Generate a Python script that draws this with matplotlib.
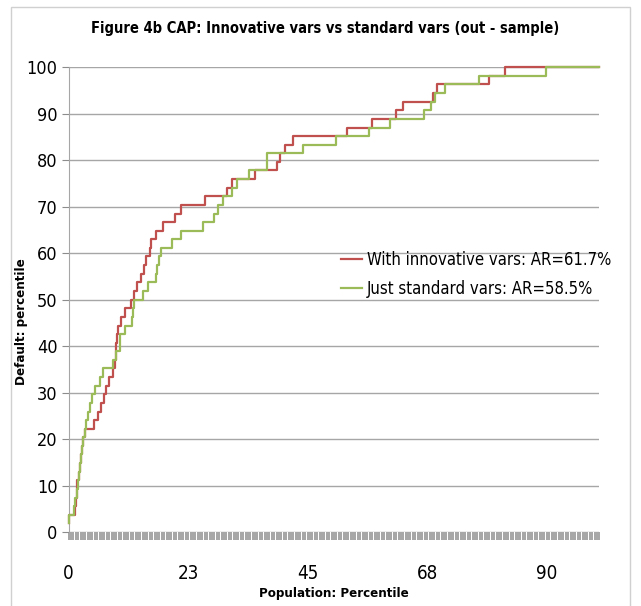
import matplotlib
matplotlib.use("Agg")
import matplotlib.pyplot as plt
from matplotlib.patches import Rectangle

plt.rcParams['font.family'] = ['Liberation Sans Narrow', 'DejaVu Sans']
plt.rcParams['font.stretch'] = 'condensed'

# CAP curve, innovative vars (step points: population %, defaults %)
innov_x = [0, 0.05, 1.2, 1.35, 1.6, 1.9, 2.1, 2.3, 2.5, 2.8,
           3.0, 4.7, 5.6, 6.1, 6.6, 7.0, 7.7, 8.4, 8.7, 8.9,
           9.1, 9.3, 9.9, 10.6, 11.8, 12.4, 12.8, 13.7, 14.3, 14.6,
           15.3, 15.6, 16.5, 17.8, 20.0, 21.2, 25.7, 29.9, 30.7, 35.2,
           39.2, 39.8, 40.7, 42.2, 52.5, 57.2, 61.6, 63.1, 68.7, 69.4,
           79.3, 82.2, 100]
innov_y = [1.9, 3.7, 5.6, 7.4, 11.1, 13.0, 14.8, 16.7, 18.5, 20.4,
           22.2, 24.1, 25.9, 27.8, 29.6, 31.5, 33.3, 35.2, 37.0, 40.7,
           42.6, 44.4, 46.3, 48.1, 50.0, 51.9, 53.7, 55.6, 57.4, 59.3,
           61.1, 63.0, 64.8, 66.7, 68.5, 70.4, 72.2, 74.1, 75.9, 77.8,
           79.6, 81.5, 83.3, 85.2, 87.0, 88.9, 90.7, 92.6, 94.4, 96.3,
           98.1, 100, 100]

# CAP curve, standard vars only
std_x = [0, 0.05, 1.1, 1.3, 1.5, 1.7, 2.0, 2.2, 2.4, 2.6,
         2.8, 3.0, 3.3, 3.7, 4.0, 4.5, 5.0, 5.9, 6.4, 8.4,
         8.9, 9.6, 10.6, 12.0, 12.1, 12.4, 14.0, 15.0, 16.5, 16.7,
         17.0, 17.5, 19.4, 21.1, 25.3, 27.4, 28.1, 29.1, 30.8, 31.8,
         33.9, 37.4, 44.2, 50.3, 56.6, 60.6, 66.9, 68.2, 69.1, 70.9,
         77.3, 90.0, 100]
std_y = [1.9, 3.7, 5.6, 7.4, 9.3, 11.1, 13.0, 14.8, 16.7, 18.5,
         20.4, 22.2, 24.1, 25.9, 27.8, 29.6, 31.5, 33.3, 35.2, 37.0,
         38.9, 42.6, 44.4, 46.3, 48.1, 50.0, 51.9, 53.7, 55.6, 57.4,
         59.3, 61.1, 63.0, 64.8, 66.7, 68.5, 70.4, 72.2, 74.1, 75.9,
         77.8, 81.5, 83.3, 85.2, 87.0, 88.9, 90.7, 92.6, 94.4, 96.3,
         98.1, 100, 100]

labels = ['With innovative vars: AR=61.7%', 'Just standard vars: AR=58.5%']
n_categories = 222
xtick_labels = ['0', '23', '45', '68', '90']
ytick_vals = [0, 10, 20, 30, 40, 50, 60, 70, 80, 90, 100]

fig = plt.figure(figsize=(6.41, 6.06), dpi=100)
ax = fig.add_axes([0.107, 0.122, 0.828, 0.767])

ax.plot(innov_x, innov_y, drawstyle='steps-post', color='#C0504D', lw=1.6,
        label=labels[0], clip_on=False, zorder=3)
ax.plot(std_x, std_y, drawstyle='steps-post', color='#9BBB59', lw=1.6,
        label=labels[1], clip_on=False, zorder=4)

ax.set_xlim(0, 100)
ax.set_ylim(0, 100)

# excel-like category axis: one tick per category, label every 50th
cat_pos = [i * 100 / n_categories for i in range(n_categories + 1)]
ax.set_xticks(cat_pos, minor=True)
ax.set_xticks([cat_pos[i] for i in range(0, 201, 50)])
ax.set_xticklabels(xtick_labels)
ax.tick_params(axis='x', which='both', direction='out', length=6, width=1.2,
               color='#969696')
ax.tick_params(axis='x', which='major', labelsize=13.5, pad=17)

ax.set_yticks(ytick_vals)
ax.tick_params(axis='y', direction='out', length=5, width=0.8, color='#8c8c8c',
               labelsize=13, pad=3)

ax.grid(axis='y', color='#a6a6a6', lw=1)
ax.set_axisbelow(True)
for s in ['top', 'right', 'bottom']:
    ax.spines[s].set_visible(False)
ax.spines['left'].set_color('#a6a6a6')

leg = ax.legend(loc='upper left', bbox_to_anchor=(0.513, 0.605), frameon=False,
                fontsize=12, handlelength=1.25, handletextpad=0.3,
                labelspacing=0.65, borderpad=0, borderaxespad=0)

fig.text(0.507, 1 - 29 / 606, 'Figure 4b CAP: Innovative vars vs standard vars (out - sample)',
         ha='center', va='center', fontsize=10.5, fontweight='bold')
fig.text(334 / 641, 1 - 593 / 606, 'Population: Percentile', ha='center', va='center',
         fontsize=9.5, fontweight='bold')
fig.text(22 / 641, 1 - 322 / 606, 'Default: percentile', ha='center', va='center',
         fontsize=9.5, fontweight='bold', rotation=90)

fig.patches.append(Rectangle((11 / 641, -0.02), 619 / 641, 1 - 7 / 606 + 0.02,
                             transform=fig.transFigure, fill=False,
                             edgecolor='#d0d0d0', lw=1))

fig.savefig('out.png', dpi=100)
